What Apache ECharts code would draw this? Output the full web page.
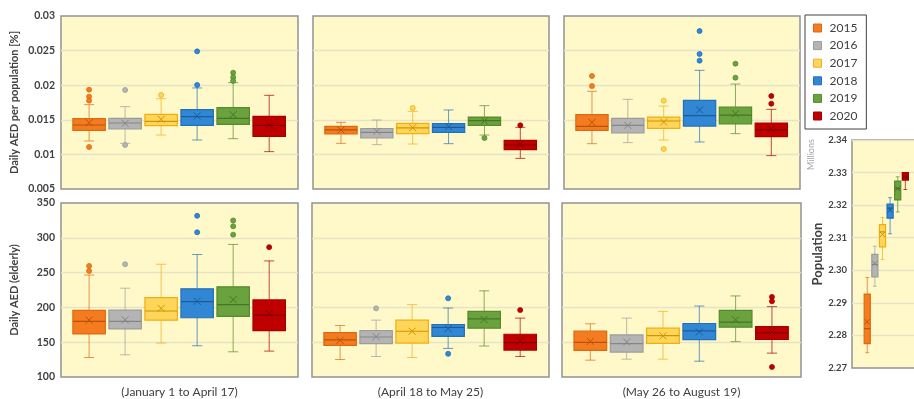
<!DOCTYPE html>
<html>
<head>
<meta charset="utf-8">
<script src="https://cdn.jsdelivr.net/npm/echarts@6/dist/echarts.min.js"></script>
<style>
  html, body { margin: 0; padding: 0; background: #ffffff; }
  #chart { width: 914px; height: 399px; }
</style>
</head>
<body>
<div id="chart"></div>
<script>
// ---- data ---------------------------------------------------------------
const years = ['2015', '2016', '2017', '2018', '2019', '2020'];
const periods = ['(January 1 to April 17)', '(April 18 to May 25)', '(May 26 to August 19)'];

// tick values of the three y scales
const rateTicks = [0.005, 0.01, 0.015, 0.02, 0.025, 0.03];
const elderTicks = [100, 150, 200, 250, 300, 350];
const popTicks = [2.27, 2.28, 2.29, 2.30, 2.31, 2.32, 2.33, 2.34];

// box statistics per year: [lower whisker, Q1, median, Q3, upper whisker, mean]
const rateJan = [
  [0.01194, 0.01348, 0.01425, 0.01516, 0.01719, 0.01459],
  [0.01160, 0.01367, 0.01454, 0.01521, 0.01690, 0.01449],
  [0.01280, 0.01415, 0.01478, 0.01579, 0.01805, 0.01507],
  [0.01208, 0.01420, 0.01545, 0.01646, 0.01960, 0.01555],
  [0.01227, 0.01434, 0.01521, 0.01675, 0.02037, 0.01574],
  [0.01040, 0.01261, 0.01420, 0.01550, 0.01854, 0.01425]
];
const rateJanOut = [[0.01935, 0.01834, 0.01777, 0.01107], [0.01931, 0.01136], [0.01858], [0.02489, 0.02003], [0.02181, 0.02114, 0.02061], []];

const rateApr = [
  [0.01160, 0.01295, 0.01353, 0.01406, 0.01463, 0.01353],
  [0.01141, 0.01237, 0.01319, 0.01372, 0.01497, 0.01333],
  [0.01150, 0.01300, 0.01382, 0.01449, 0.01622, 0.01386],
  [0.01155, 0.01319, 0.01391, 0.01444, 0.01642, 0.01401],
  [0.01280, 0.01420, 0.01487, 0.01540, 0.01704, 0.01487],
  [0.00943, 0.01068, 0.01136, 0.01203, 0.01391, 0.01150]
];
const rateAprOut = [[], [], [0.01670], [], [0.01237], [0.01420]];

const rateMay = [
  [0.01155, 0.01348, 0.01406, 0.01574, 0.01911, 0.01463],
  [0.01170, 0.01309, 0.01420, 0.01521, 0.01796, 0.01420],
  [0.01208, 0.01377, 0.01483, 0.01540, 0.01699, 0.01468],
  [0.01179, 0.01410, 0.01560, 0.01781, 0.02215, 0.01642],
  [0.01300, 0.01439, 0.01569, 0.01685, 0.02017, 0.01589],
  [0.00982, 0.01256, 0.01353, 0.01454, 0.01651, 0.01367]
];
const rateMayOut = [[0.02133, 0.01988], [], [0.01776, 0.01078], [0.02783, 0.02451, 0.02355], [0.02311, 0.02109], [0.01844, 0.01733]];

const elderJan = [
  [128.0, 161.9, 179.8, 195.7, 246.5, 181.7],
  [131.9, 169.1, 179.8, 196.2, 227.6, 182.2],
  [148.8, 181.7, 194.8, 214.1, 262.0, 198.6],
  [144.9, 185.1, 208.3, 226.7, 276.0, 208.8],
  [136.2, 187.0, 204.0, 229.6, 290.5, 211.2],
  [137.2, 166.7, 189.0, 210.7, 266.8, 190.9]
];
const elderJanOut = [[259.6, 252.3], [262.0], [], [331.6, 307.9], [324.9, 316.6, 304.5], [286.6]];

const elderApr = [
  [125.1, 145.4, 153.2, 163.8, 174.0, 152.7],
  [129.5, 147.9, 157.5, 166.7, 181.7, 158.0],
  [128.0, 148.8, 165.7, 181.7, 204.0, 165.7],
  [141.1, 158.5, 171.1, 175.4, 199.1, 169.6],
  [144.5, 170.1, 183.6, 194.3, 223.8, 182.7],
  [129.5, 138.7, 149.3, 161.4, 184.6, 152.2]
];
const elderAprOut = [[], [198.6], [], [213.1, 133.3], [], [196.2]];

const elderMay = [
  [124.2, 138.2, 149.8, 165.8, 176.4, 151.2],
  [125.6, 135.8, 147.9, 160.4, 184.6, 150.3],
  [125.6, 148.3, 159.5, 170.1, 194.3, 159.0],
  [122.7, 153.7, 166.3, 176.9, 202.0, 164.8],
  [150.8, 171.6, 178.8, 195.7, 216.5, 182.2],
  [134.3, 154.1, 163.3, 172.5, 201.1, 164.8]
];
const elderMayOut = [[], [], [], [], [], [215.1, 208.8, 114.5]];

// population in millions
const population = [
  [2.2747, 2.2775, 2.2821, 2.2927, 2.2978, 2.2842],
  [2.2951, 2.2980, 2.3018, 2.3049, 2.3074, 2.3021],
  [2.3033, 2.3072, 2.3118, 2.3140, 2.3162, 2.3110],
  [2.3112, 2.3160, 2.3191, 2.3203, 2.3223, 2.3185],
  [2.3179, 2.3216, 2.3251, 2.3274, 2.3287, 2.3251],
  [2.3248, 2.3277, 2.3287, 2.3300, 2.3300, 2.3287]
];
const populationOut = [[], [], [], [], [], []];

// ---- styling ------------------------------------------------------------
const palette = [
  { fill: '#F47B20', border: '#DD6A10', dark: '#B5550A' },
  { fill: '#B4B4B4', border: '#9C9C9C', dark: '#858585' },
  { fill: '#FFD65A', border: '#EFAE14', dark: '#D09400' },
  { fill: '#3187D4', border: '#2270B8', dark: '#1A5C9A' },
  { fill: '#6AA23E', border: '#558A2E', dark: '#467526' },
  { fill: '#C00000', border: '#A50000', dark: '#820000' }
];
const FONT = 'Lato, "Open Sans", sans-serif';
const PANEL_BG = '#FFF9C9';
const PANEL_BORDER = '#939393';
const GRID_LINE = '#E8E2C6';
const TEXT = '#404040';

// panel rectangles and their content
const panels = [
  { rect: { left: 61, top: 16, width: 237, height: 173 }, stats: rateJan, out: rateJanOut, ticks: rateTicks, labels: true, name: 'Daily AED per population [%]' },
  { rect: { left: 313, top: 16, width: 236, height: 173 }, stats: rateApr, out: rateAprOut, ticks: rateTicks },
  { rect: { left: 564, top: 16, width: 236, height: 173 }, stats: rateMay, out: rateMayOut, ticks: rateTicks },
  { rect: { left: 61, top: 203, width: 237, height: 174 }, stats: elderJan, out: elderJanOut, ticks: elderTicks, labels: true, name: 'Daily AED (elderly)', period: periods[0] },
  { rect: { left: 312, top: 203, width: 237, height: 174 }, stats: elderApr, out: elderAprOut, ticks: elderTicks, period: periods[1] },
  { rect: { left: 562, top: 203, width: 239, height: 174 }, stats: elderMay, out: elderMayOut, ticks: elderTicks, period: periods[2] },
  { rect: { left: 852, top: 140, width: 80, height: 228 }, stats: population, out: populationOut, ticks: popTicks, labels: true, name: 'Population', pop: true }
];

function boxRenderer(col, boxFrac, capFrac, r) {
  return function (params, api) {
    const x = api.value(0);
    const pt = function (i) { return api.coord([x, api.value(i)]); };
    const lo = pt(1), q1 = pt(2), md = pt(3), q3 = pt(4), hi = pt(5), mn = pt(6);
    const bw = api.size([boxFrac, 0])[0];
    const cw = api.size([capFrac, 0])[0];
    const cx = lo[0];
    const wh = { stroke: col.border, lineWidth: 1, opacity: 0.7 };
    return {
      type: 'group',
      children: [
        { type: 'line', shape: { x1: cx, y1: hi[1], x2: cx, y2: q3[1] }, style: wh },
        { type: 'line', shape: { x1: cx, y1: q1[1], x2: cx, y2: lo[1] }, style: wh },
        { type: 'line', shape: { x1: cx - cw / 2, y1: hi[1], x2: cx + cw / 2, y2: hi[1] }, style: wh },
        { type: 'line', shape: { x1: cx - cw / 2, y1: lo[1], x2: cx + cw / 2, y2: lo[1] }, style: wh },
        { type: 'rect', shape: { x: cx - bw / 2, y: q3[1], width: bw, height: q1[1] - q3[1] },
          style: { fill: col.fill, stroke: col.border, lineWidth: 1.2 } },
        { type: 'line', shape: { x1: cx - bw / 2, y1: md[1], x2: cx + bw / 2, y2: md[1] },
          style: { stroke: col.dark, lineWidth: 1.2 } },
        { type: 'line', shape: { x1: mn[0] - r, y1: mn[1] - r, x2: mn[0] + r, y2: mn[1] + r },
          style: { stroke: col.dark, lineWidth: 1 } },
        { type: 'line', shape: { x1: mn[0] - r, y1: mn[1] + r, x2: mn[0] + r, y2: mn[1] - r },
          style: { stroke: col.dark, lineWidth: 1 } }
      ]
    };
  };
}

const grid = [], xAxis = [], yAxis = [], series = [];

panels.forEach(function (p, gi) {
  grid.push(Object.assign({
    show: true, backgroundColor: PANEL_BG, borderColor: PANEL_BORDER, borderWidth: 1.5,
    containLabel: false, outerBoundsMode: 'none'
  }, p.rect));

  xAxis.push({
    type: 'value', gridIndex: gi,
    min: p.pop ? -2 : -0.78, max: p.pop ? 8.5 : 5.8,
    axisLine: { show: false }, axisTick: { show: false }, axisLabel: { show: false }, splitLine: { show: false },
    name: p.period || '', nameLocation: 'middle', nameGap: 9,
    nameTextStyle: { color: TEXT, fontFamily: FONT, fontSize: 12 }
  });

  const t = p.ticks;
  yAxis.push({
    type: 'value', gridIndex: gi,
    min: t[0], max: t[t.length - 1], interval: t[1] - t[0],
    axisLine: { show: false }, axisTick: { show: false },
    splitLine: { show: true, showMinLine: false, showMaxLine: false, lineStyle: { color: GRID_LINE, width: 1.3 } },
    axisLabel: {
      show: !!p.labels, color: TEXT, fontFamily: FONT, fontWeight: 'bold',
      fontSize: p.pop ? 9.5 : 10.5, margin: p.pop ? 5 : 6,
      formatter: p.pop ? function (v) { return v.toFixed(2); } : function (v) { return String(+v.toFixed(4)); }
    },
    name: p.name || '', nameLocation: 'middle', nameRotate: 90,
    nameGap: p.pop ? 27 : 41,
    nameTextStyle: { color: TEXT, fontFamily: FONT, fontWeight: 'bold', fontSize: p.pop ? 13 : 11 }
  });

  years.forEach(function (y, yi) {
    const col = palette[yi];
    series.push({
      type: 'custom', name: y, xAxisIndex: gi, yAxisIndex: gi,
      itemStyle: { color: col.fill, borderColor: col.border },
      renderItem: p.pop ? boxRenderer(col, 0.8, 0.5, 2.5) : boxRenderer(col, 0.9, 0.28, 3.5),
      encode: { x: 0, y: [1, 2, 3, 4, 5, 6] },
      data: [[yi].concat(p.stats[yi])],
      silent: true, z: 3
    });
    if (p.out[yi].length) {
      series.push({
        type: 'scatter', name: y, xAxisIndex: gi, yAxisIndex: gi,
        symbol: 'circle', symbolSize: 5,
        itemStyle: { color: col.fill, borderColor: col.border, borderWidth: 0.8, opacity: 1 },
        data: p.out[yi].map(function (v) { return [yi, v]; }),
        silent: true, z: 4
      });
    }
  });
});

const chart = echarts.init(document.getElementById('chart'), null, { renderer: 'canvas' });
chart.setOption({
  animation: false,
  backgroundColor: '#ffffff',
  grid: grid, xAxis: xAxis, yAxis: yAxis, series: series,
  legend: {
    orient: 'vertical', left: 805, top: 15,
    padding: [7, 9, 7, 8], itemGap: 5.6,
    itemWidth: 8, itemHeight: 8, icon: 'rect',
    borderColor: '#404040', borderWidth: 1, backgroundColor: '#ffffff',
    selectedMode: false,
    textStyle: { color: TEXT, fontFamily: FONT, fontSize: 12, padding: [0, 0, 0, 3] },
    data: years.map(function (y, i) {
      return { name: y, itemStyle: { color: palette[i].fill, borderColor: palette[i].border, borderWidth: 1 } };
    })
  },
  graphic: [{
    type: 'text', x: 811, y: 170, rotation: Math.PI / 2,
    style: { text: 'Millions', fill: '#A6A6A6', font: '9px ' + FONT, textVerticalAlign: 'middle' }
  }]
});
</script>
</body>
</html>
